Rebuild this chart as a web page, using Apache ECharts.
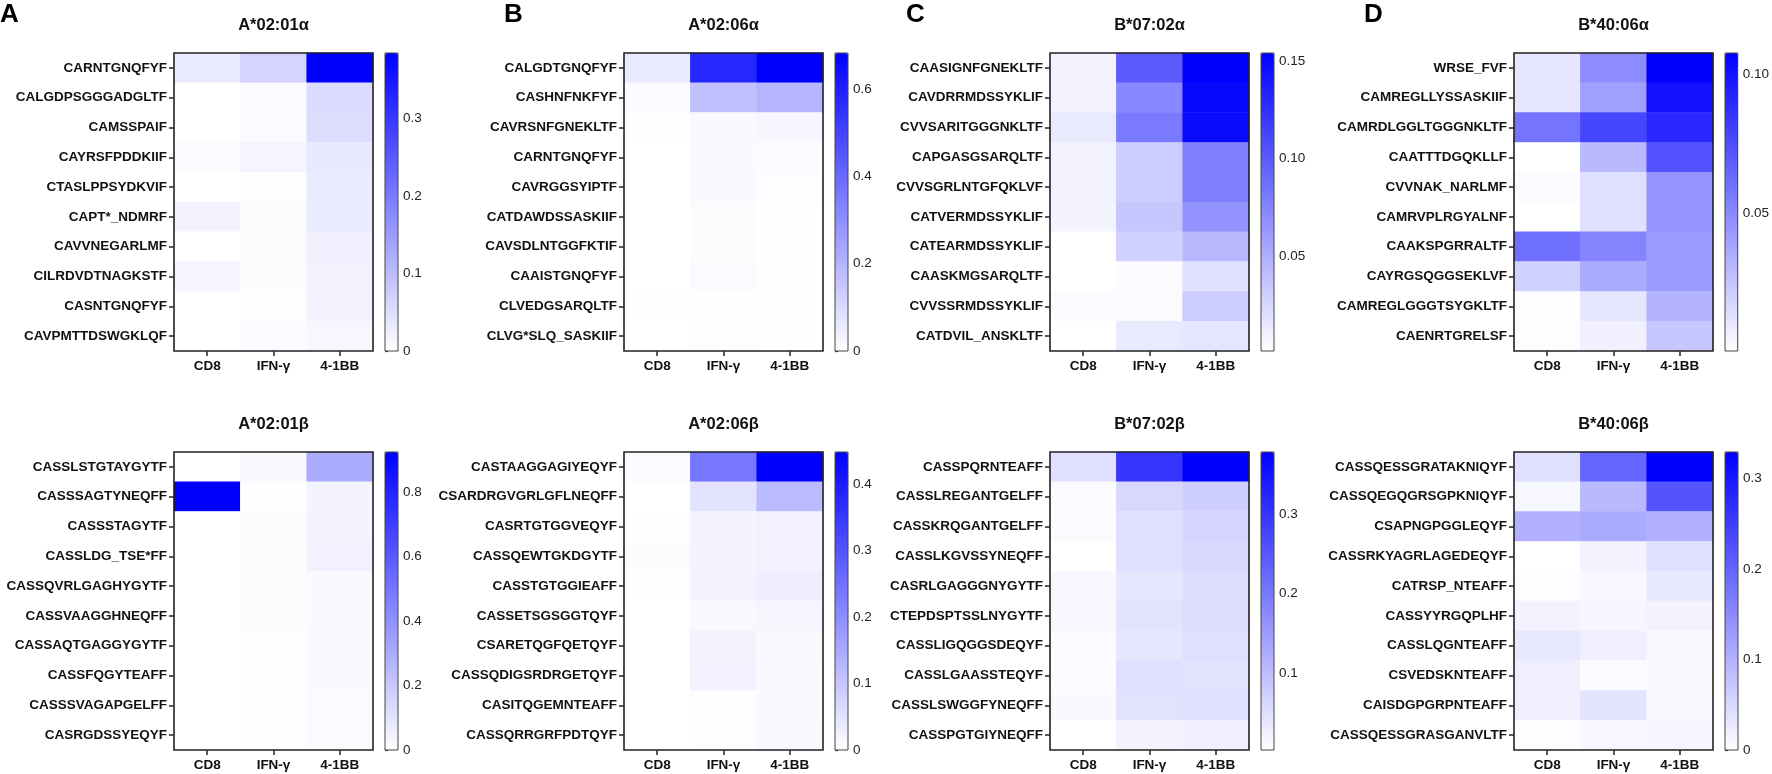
<!DOCTYPE html>
<html>
<head>
<meta charset="utf-8">
<script src="https://cdn.jsdelivr.net/npm/echarts@6/dist/echarts.min.js"></script>
<style>
  html, body { margin: 0; padding: 0; background: #fff; }
  #chart { width: 1772px; height: 774px; }
</style>
</head>
<body>
<div id="chart"></div>
<script>
const columns = ['CD8', 'IFN-γ', '4-1BB'];

// ---- top row (alpha chains) ----
const rowsA1 = ['CARNTGNQFYF', 'CALGDPSGGGADGLTF', 'CAMSSPAIF', 'CAYRSFPDDKIIF', 'CTASLPPSYDKVIF',
	'CAPT*_NDMRF', 'CAVVNEGARLMF', 'CILRDVDTNAGKSTF', 'CASNTGNQFYF', 'CAVPMTTDSWGKLQF'];
const valsA1 = [[0.030, 0.065, 0.384], [0, 0.008, 0.054], [0, 0.006, 0.052], [0.006, 0.015, 0.035], [0, 0.003, 0.030],
	[0.020, 0.004, 0.030], [0, 0.004, 0.022], [0.014, 0.004, 0.020], [0, 0.002, 0.018], [0, 0.006, 0.012]];
const rangeA1 = [0, 0.384];
const ticksA1 = [0, 0.1, 0.2, 0.3];
const tickTextA1 = ['0', '0.1', '0.2', '0.3'];

const rowsB1 = ['CALGDTGNQFYF', 'CASHNFNKFYF', 'CAVRSNFGNEKLTF', 'CARNTGNQFYF', 'CAVRGGSYIPTF',
	'CATDAWDSSASKIIF', 'CAVSDLNTGGFKTIF', 'CAAISTGNQFYF', 'CLVEDGSARQLTF', 'CLVG*SLQ_SASKIIF'];
const valsB1 = [[0.060, 0.580, 0.683], [0.010, 0.170, 0.200], [0.003, 0.020, 0.025], [0, 0.015, 0.010], [0, 0.015, 0.005],
	[0, 0.008, 0.003], [0, 0.008, 0.003], [0, 0.012, 0.003], [0.003, 0.003, 0.003], [0, 0.005, 0.003]];
const rangeB1 = [0, 0.683];
const ticksB1 = [0, 0.2, 0.4, 0.6];
const tickTextB1 = ['0', '0.2', '0.4', '0.6'];

const rowsC1 = ['CAASIGNFGNEKLTF', 'CAVDRRMDSSYKLIF', 'CVVSARITGGGNKLTF', 'CAPGASGSARQLTF', 'CVVSGRLNTGFQKLVF',
	'CATVERMDSSYKLIF', 'CATEARMDSSYKLIF', 'CAASKMGSARQLTF', 'CVVSSRMDSSYKLIF', 'CATDVIL_ANSKLTF'];
const valsC1 = [[0.009, 0.100, 0.154], [0.009, 0.073, 0.149], [0.014, 0.081, 0.148], [0.009, 0.032, 0.078], [0.009, 0.032, 0.078],
	[0.008, 0.035, 0.066], [0.0015, 0.029, 0.044], [0.0015, 0.0045, 0.020], [0.0045, 0.0045, 0.032], [0.0015, 0.014, 0.017]];
const rangeC1 = [0.0015, 0.154];
const ticksC1 = [0.05, 0.10, 0.15];
const tickTextC1 = ['0.05', '0.10', '0.15'];

const rowsD1 = ['WRSE_FVF', 'CAMREGLLYSSASKIIF', 'CAMRDLGGLTGGGNKLTF', 'CAATTTDGQKLLF', 'CVVNAK_NARLMF',
	'CAMRVPLRGYALNF', 'CAAKSPGRRALTF', 'CAYRGSQGGSEKLVF', 'CAMREGLGGGTSYGKLTF', 'CAENRTGRELSF'];
const valsD1 = [[0.011, 0.049, 0.1076], [0.011, 0.041, 0.100], [0.059, 0.078, 0.091], [0.0005, 0.030, 0.073], [0.0025, 0.014, 0.045],
	[0.0005, 0.014, 0.045], [0.061, 0.052, 0.043], [0.020, 0.036, 0.043], [0.0015, 0.011, 0.033], [0.0015, 0.007, 0.024]];
const rangeD1 = [0.0005, 0.1076];
const ticksD1 = [0.05, 0.10];
const tickTextD1 = ['0.05', '0.10'];

// ---- bottom row (beta chains) ----
const rowsA2 = ['CASSLSTGTAYGYTF', 'CASSSAGTYNEQFF', 'CASSSTAGYTF', 'CASSLDG_TSE*FF', 'CASSQVRLGAGHYGYTF',
	'CASSVAAGGHNEQFF', 'CASSAQTGAGGYGYTF', 'CASSFQGYTEAFF', 'CASSSVAGAPGELFF', 'CASRGDSSYEQYF'];
const valsA2 = [[0, 0.020, 0.300], [0.924, 0.005, 0.040], [0, 0.010, 0.040], [0, 0.010, 0.050], [0, 0.010, 0.020],
	[0, 0.010, 0.020], [0, 0.008, 0.020], [0, 0.008, 0.020], [0, 0.003, 0.015], [0, 0.003, 0.015]];
const rangeA2 = [0, 0.924];
const ticksA2 = [0, 0.2, 0.4, 0.6, 0.8];
const tickTextA2 = ['0', '0.2', '0.4', '0.6', '0.8'];

const rowsB2 = ['CASTAAGGAGIYEQYF', 'CSARDRGVGRLGFLNEQFF', 'CASRTGTGGVEQYF', 'CASSQEWTGKDGYTF', 'CASSTGTGGIEAFF',
	'CASSETSGSGGTQYF', 'CSARETQGFQETQYF', 'CASSQDIGSRDRGETQYF', 'CASITQGEMNTEAFF', 'CASSQRRGRFPDTQYF'];
const valsB2 = [[0.008, 0.240, 0.448], [0, 0.050, 0.120], [0.002, 0.020, 0.025], [0.005, 0.020, 0.025], [0.002, 0.020, 0.030],
	[0, 0.012, 0.015], [0, 0.022, 0.012], [0, 0.025, 0.010], [0, 0.003, 0.010], [0, 0.003, 0.012]];
const rangeB2 = [0, 0.448];
const ticksB2 = [0, 0.1, 0.2, 0.3, 0.4];
const tickTextB2 = ['0', '0.1', '0.2', '0.3', '0.4'];

const rowsC2 = ['CASSPQRNTEAFF', 'CASSLREGANTGELFF', 'CASSKRQGANTGELFF', 'CASSLKGVSSYNEQFF', 'CASRLGAGGGNYGYTF',
	'CTEPDSPTSSLNYGYTF', 'CASSLIGQGGSDEQYF', 'CASSLGAASSTEQYF', 'CASSLSWGGFYNEQFF', 'CASSPGTGIYNEQFF'];
const valsC2 = [[0.050, 0.300, 0.378], [0.010, 0.060, 0.075], [0.010, 0.050, 0.065], [0.003, 0.050, 0.060], [0.015, 0.040, 0.055],
	[0.015, 0.045, 0.055], [0.010, 0.040, 0.050], [0.010, 0.050, 0.045], [0.012, 0.045, 0.050], [0.003, 0.020, 0.025]];
const rangeC2 = [0.003, 0.378];
const ticksC2 = [0.1, 0.2, 0.3];
const tickTextC2 = ['0.1', '0.2', '0.3'];

const rowsD2 = ['CASSQESSGRATAKNIQYF', 'CASSQEGQGRSGPKNIQYF', 'CSAPNGPGGLEQYF', 'CASSRKYAGRLAGEDEQYF', 'CATRSP_NTEAFF',
	'CASSYYRGQPLHF', 'CASSLQGNTEAFF', 'CSVEDSKNTEAFF', 'CAISDGPGRPNTEAFF', 'CASSQESSGRASGANVLTF'];
const valsD2 = [[0.040, 0.200, 0.329], [0.010, 0.090, 0.220], [0.100, 0.110, 0.100], [0, 0.015, 0.040], [0.003, 0.010, 0.030],
	[0.015, 0.012, 0.015], [0.030, 0.020, 0.008], [0.020, 0.005, 0.008], [0.020, 0.035, 0.008], [0.003, 0.010, 0.012]];
const rangeD2 = [0, 0.329];
const ticksD2 = [0, 0.1, 0.2, 0.3];
const tickTextD2 = ['0', '0.1', '0.2', '0.3'];

const panels = [
	{ title: 'A*02:01α', rows: rowsA1, vals: valsA1, range: rangeA1, ticks: ticksA1, tickText: tickTextA1 },
	{ title: 'A*02:06α', rows: rowsB1, vals: valsB1, range: rangeB1, ticks: ticksB1, tickText: tickTextB1 },
	{ title: 'B*07:02α', rows: rowsC1, vals: valsC1, range: rangeC1, ticks: ticksC1, tickText: tickTextC1 },
	{ title: 'B*40:06α', rows: rowsD1, vals: valsD1, range: rangeD1, ticks: ticksD1, tickText: tickTextD1 },
	{ title: 'A*02:01β', rows: rowsA2, vals: valsA2, range: rangeA2, ticks: ticksA2, tickText: tickTextA2 },
	{ title: 'A*02:06β', rows: rowsB2, vals: valsB2, range: rangeB2, ticks: ticksB2, tickText: tickTextB2 },
	{ title: 'B*07:02β', rows: rowsC2, vals: valsC2, range: rangeC2, ticks: ticksC2, tickText: tickTextC2 },
	{ title: 'B*40:06β', rows: rowsD2, vals: valsD2, range: rangeD2, ticks: ticksD2, tickText: tickTextD2 },
];
const letters = ['A', 'B', 'C', 'D'];

// layout (px)
const colLeft = [174, 624, 1050, 1514];
const rowTop = [53, 452];
const plotW = 199, plotH = 298;
const barGap = 211, barW = 13;
const font = '"Liberation Sans", Arial, Helvetica, sans-serif';

const title = [], grid = [], xAxis = [], yAxis = [], visualMap = [], series = [];

letters.forEach((l, i) => {
	title.push({
		text: l, left: [0, 504, 906, 1364][i], top: 2, padding: 0,
		textStyle: { fontFamily: font, fontSize: 26, fontWeight: 'bold', color: '#000' },
	});
});

panels.forEach((p, i) => {
	const left = colLeft[i % 4];
	const top = rowTop[Math.floor(i / 4)];
	title.push({
		text: p.title, left: left + plotW / 2, top: top - 36, textAlign: 'center', padding: 0,
		textStyle: { fontFamily: font, fontSize: 16.5, fontWeight: 'bold', color: '#111' },
	});

	// heatmap grid
	const gi = grid.length;
	grid.push({
		left, top, width: plotW, height: plotH, show: true, z: 3,
		backgroundColor: 'transparent', borderColor: '#222', borderWidth: 1.6,
	});
	xAxis.push({
		type: 'category', gridIndex: gi, data: columns, position: 'bottom',
		axisLine: { show: false },
		axisTick: { show: true, alignWithLabel: true, length: 5, lineStyle: { color: '#222', width: 1.5 } },
		axisLabel: { margin: 8, fontFamily: font, fontSize: 13.5, fontWeight: 'bold', color: '#111' },
		splitLine: { show: false },
	});
	yAxis.push({
		type: 'category', gridIndex: gi, data: p.rows, inverse: true,
		axisLine: { show: false },
		axisTick: { show: true, alignWithLabel: true, length: 5, lineStyle: { color: '#222', width: 1.5 } },
		axisLabel: { margin: 7, fontFamily: font, fontSize: 13.5, fontWeight: 'bold', color: '#111' },
		splitLine: { show: false },
	});
	const data = [];
	p.vals.forEach((row, r) => {
		row.forEach((v, c) => data.push([c, r, v]));
	});
	series.push({
		type: 'heatmap', xAxisIndex: gi, yAxisIndex: gi, data,
		itemStyle: { borderWidth: 0 },
		emphasis: { disabled: true },
	});
	visualMap.push({
		type: 'continuous', seriesIndex: i, min: p.range[0], max: p.range[1],
		calculable: false, orient: 'vertical', itemWidth: barW, itemHeight: plotH,
		left: left + barGap, top, padding: 0, text: null,
		inRange: { color: ['#ffffff', '#0000ff'] },
		hoverLink: false,
	});

	// colour bar axis overlay
	const ci = grid.length;
	grid.push({
		left: left + barGap, top, width: barW, height: plotH, show: true, z: 5,
		backgroundColor: 'transparent', borderColor: '#444', borderWidth: 1,
	});
	xAxis.push({ type: 'value', gridIndex: ci, min: 0, max: 1, show: false });
	yAxis.push({
		type: 'value', gridIndex: ci, position: 'right', min: p.range[0], max: p.range[1],
		axisLine: { show: false },
		splitLine: { show: false },
		axisTick: { show: true, length: 3, customValues: p.ticks, lineStyle: { color: '#333', width: 1.2 } },
		axisLabel: {
			margin: 5, customValues: p.ticks, fontFamily: font, fontSize: 13.5, color: '#222',
			formatter: (v) => {
				const k = p.ticks.findIndex((t) => Math.abs(t - v) < 1e-9);
				return k >= 0 ? p.tickText[k] : '';
			},
		},
	});
});

const chart = echarts.init(document.getElementById('chart'));
chart.setOption({
	animation: false,
	backgroundColor: '#fff',
	title, grid, xAxis, yAxis, visualMap, series,
});
</script>
</body>
</html>
